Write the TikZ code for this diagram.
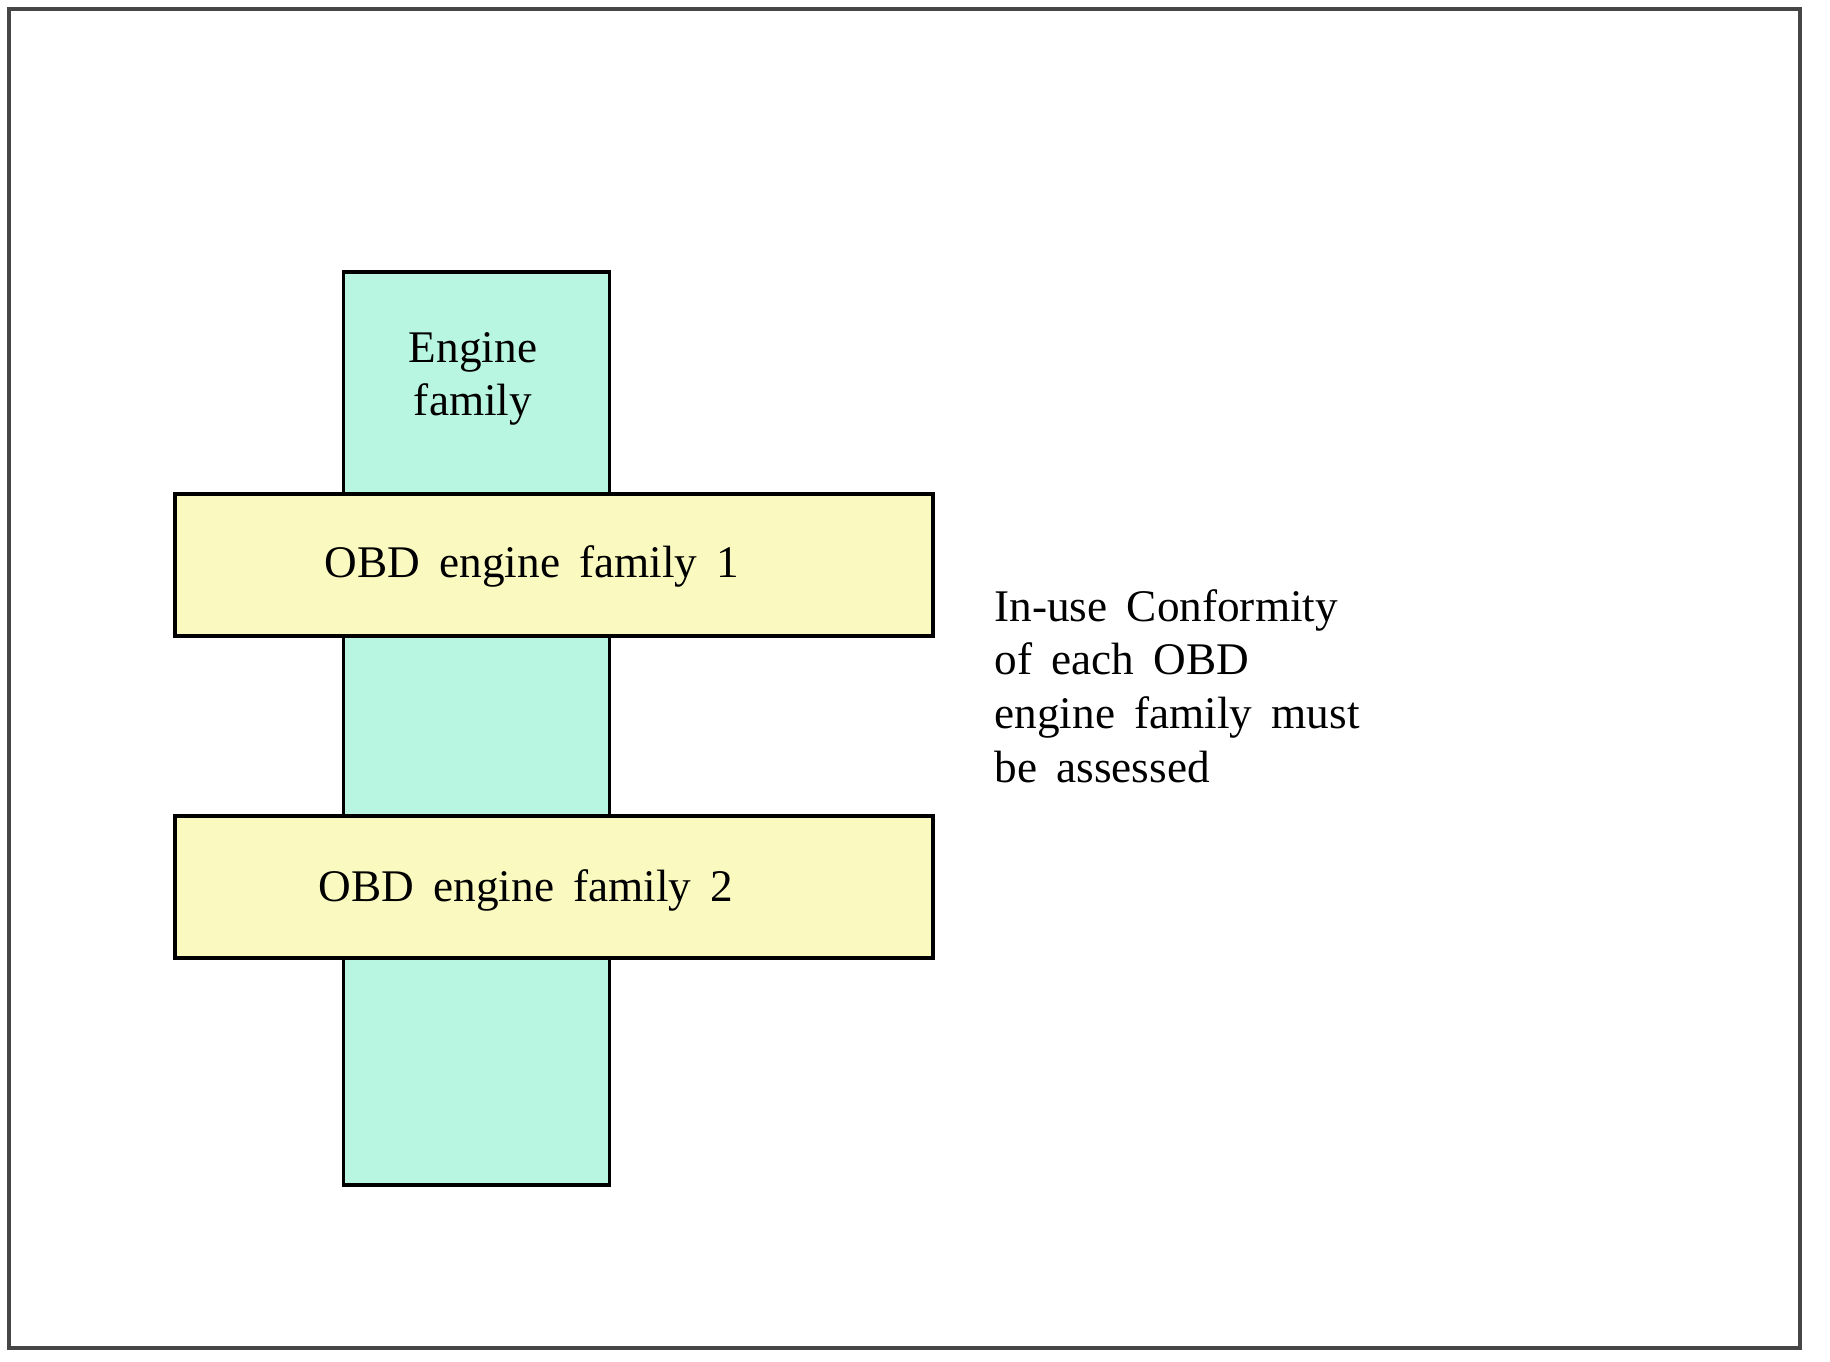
\documentclass[tikz,border=0pt]{standalone}
\usepackage{fontspec}
\setmainfont{Liberation Serif}[WordSpace=1.7]
\definecolor{teal1}{RGB}{184,246,226}
\definecolor{yel1}{RGB}{250,250,192}
\definecolor{frame1}{RGB}{70,70,70}
\begin{document}
\begin{tikzpicture}[x=0.4pt,y=-0.4pt,
  bar/.style={draw=black,line width=1.5pt,fill=teal1,inner sep=0pt},
  band/.style={draw=black,line width=1.5pt,fill=yel1,inner sep=0pt},
  lbl/.style={inner sep=0pt,font=\fontsize{18.1}{21.5}\selectfont,align=center}]
\useasboundingbox (0,0) rectangle (1830,1361);
\draw[frame1,line width=1.6pt] (9,9) rectangle (1800,1348);
\node[bar,minimum width=266*0.4pt,minimum height=913*0.4pt] (fam) at (476.5,728.5) {};
\node[band,minimum width=758*0.4pt,minimum height=142*0.4pt] (b1) at (554,565) {};
\node[band,minimum width=758*0.4pt,minimum height=142*0.4pt] (b2) at (554,887) {};
\node[lbl] (famtxt) at (473,379) {Engine\\family};
\node[lbl] (t1) at (532,566) {OBD engine family 1};
\node[lbl] (t2) at (526,890) {OBD engine family 2};
\node[lbl,align=left,anchor=west] (note) at (994,686) {In-use Conformity\\of each OBD\\engine family must\\be assessed};
\end{tikzpicture}
\end{document}
